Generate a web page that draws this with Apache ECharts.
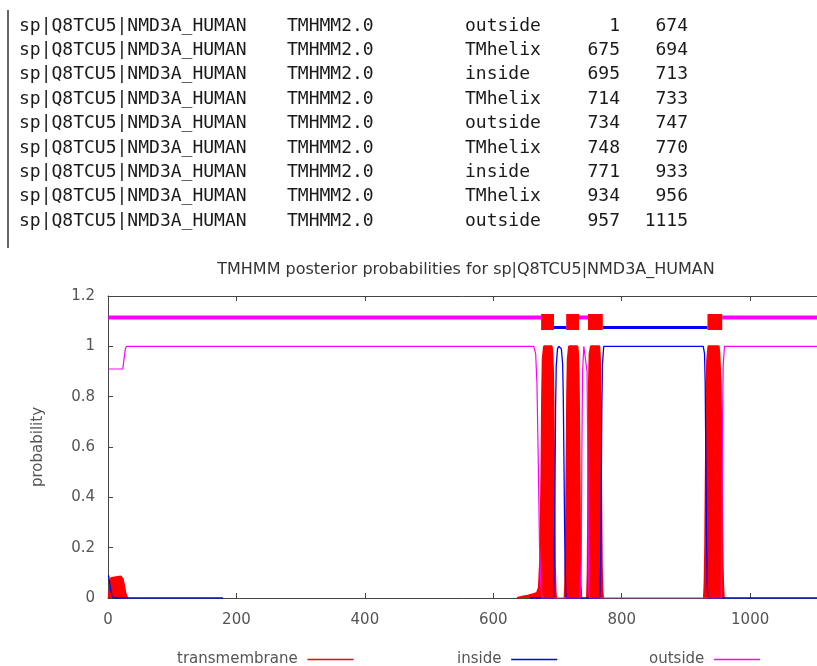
<!DOCTYPE html>
<html>
<head>
<meta charset="utf-8">
<script src="https://cdn.jsdelivr.net/npm/echarts@6/dist/echarts.min.js"></script>
<style>
  html, body { margin: 0; padding: 0; background: #ffffff; }
  #chart { width: 817px; height: 666px; }
</style>
</head>
<body>
<div id="chart"></div>
<script>
// ---- TMHMM prediction table ----
const seqName = 'sp|Q8TCU5|NMD3A_HUMAN';
const methodName = 'TMHMM2.0';
const regionType = ['outside', 'TMhelix', 'inside', 'TMhelix', 'outside', 'TMhelix', 'inside', 'TMhelix', 'outside'];
const regionStart = [1, 675, 695, 714, 734, 748, 771, 934, 957];
const regionEnd = [674, 694, 713, 733, 747, 770, 933, 956, 1115];
const seqLength = 1115;

// ---- posterior probabilities (residue, probability), '-' marks a gap ----
const tmProb = [
  [1, 0], [3, 0.04], [5, 0.08], [8, 0.085], [20, 0.085], [23, 0.075], [25, 0.05], [27, 0.02], [30, 0],
  ['-', '-'],
  [637, 0], [645, 0.005], [655, 0.01], [662, 0.015], [668, 0.02], [671, 0.04], [673, 0.15], [675, 0.5],
  [676, 0.8], [677, 0.95], [679, 1], [691, 1], [692, 0.97], [693, 0.9], [694, 0.7], [695, 0.4],
  [696, 0.12], [697, 0.02], [698, 0],
  ['-', '-'],
  [711, 0], [712, 0.05], [713, 0.2], [714, 0.5], [715, 0.8], [716, 0.95], [718, 1], [731, 1],
  [732, 0.97], [733, 0.88], [734, 0.6], [735, 0.25], [736, 0.06], [737, 0],
  ['-', '-'],
  [746, 0], [747, 0.1], [748, 0.45], [749, 0.85], [750, 0.97], [752, 1], [765, 1], [766, 0.95],
  [767, 0.75], [768, 0.4], [769, 0.12], [770, 0.02], [771, 0],
  ['-', '-'],
  [928, 0], [929, 0.05], [930, 0.2], [931, 0.5], [932, 0.8], [933, 0.94], [935, 1], [951, 1],
  [952, 0.97], [954, 0.85], [955, 0.65], [956, 0.4], [957, 0.15], [958, 0.04], [959, 0]
];
const insideProb = [
  [1, 0.09], [3, 0.05], [6, 0.01], [8, 0], [179, 0],
  ['-', '-'],
  [657, 0], [694, 0], [695, 0.15], [696, 0.45], [697, 0.75], [698, 0.92], [700, 0.99], [702, 1],
  [706, 0.99], [708, 0.93], [709, 0.8], [710, 0.55], [711, 0.3], [712, 0.1], [713, 0.02], [714, 0],
  [766, 0], [767, 0.1], [768, 0.4], [769, 0.75], [770, 0.93], [772, 1], [927, 1], [929, 0.97],
  [930, 0.85], [931, 0.55], [932, 0.25], [933, 0.06], [934, 0], [1115, 0]
];
const outsideProb = [
  [1, 0.91], [23, 0.91], [25, 0.95], [27, 0.99], [29, 1], [663, 1], [666, 0.97], [668, 0.85],
  [670, 0.55], [672, 0.2], [674, 0.05], [676, 0],
  [735, 0], [737, 0.15], [738, 0.6], [739, 0.9], [741, 1], [744, 1], [746, 0.9], [747, 0.6],
  [748, 0.2], [749, 0.03], [750, 0],
  [771, 0], [955, 0], [956, 0.3], [957, 0.7], [958, 0.92], [960, 1], [1115, 1]
];

// levels of the topology bars at the top of the plot
const topLevel = { outside: 1.115, inside: 1.075, TMhelix: 1.097 };

function topologySegments(type) {
  const out = [];
  regionType.forEach((t, i) => {
    if (t !== type) return;
    if (out.length) out.push(['-', '-']);
    out.push([regionStart[i] - 0.5, topLevel[type]]);
    out.push([regionEnd[i] + 0.5, topLevel[type]]);
  });
  return out;
}

const chart = echarts.init(document.getElementById('chart'), null, { renderer: 'canvas' });

const sansFont = '"DejaVu Sans", "Liberation Sans", sans-serif';
const monoFont = '"DejaVu Sans Mono", "Liberation Mono", monospace';

// table text as graphic elements
const tableGraphics = [];
const rowY0 = 26, rowStep = 24.4;
regionType.forEach((t, i) => {
  const y = rowY0 + i * rowStep;
  const cells = [
    { text: seqName, x: 19, align: 'left' },
    { text: methodName, x: 287, align: 'left' },
    { text: t, x: 465, align: 'left' },
    { text: String(regionStart[i]), x: 620, align: 'right' },
    { text: String(regionEnd[i]), x: 688, align: 'right' }
  ];
  cells.forEach(c => {
    tableGraphics.push({
      type: 'text',
      silent: true,
      style: {
        text: c.text, x: c.x, y: y,
        fill: '#1a1a1a',
        font: '18px ' + monoFont,
        align: c.align, textAlign: c.align,
        verticalAlign: 'middle', textVerticalAlign: 'middle'
      }
    });
  });
});
tableGraphics.push({
  type: 'line', silent: true,
  shape: { x1: 8, y1: 10, x2: 8, y2: 248 },
  style: { stroke: '#333', lineWidth: 1.5 }
});

const legendBase = {
  orient: 'horizontal',
  align: 'right',
  top: 652,
  padding: 0,
  itemWidth: 46,
  itemHeight: 1.5,
  formatter: name => name + ' ',
  textStyle: { fontFamily: sansFont, fontSize: 15, color: '#555' }
};

const option = {
  animation: false,
  backgroundColor: '#ffffff',
  title: {
    text: 'TMHMM posterior probabilities for ' + seqName,
    left: 466,
    textAlign: 'center',
    top: 262,
    padding: 0,
    textStyle: { fontFamily: sansFont, fontSize: 16, fontWeight: 'normal', color: '#333' }
  },
  graphic: tableGraphics,
  legend: [
    Object.assign({}, legendBase, { left: 177, data: [{ name: 'transmembrane', icon: 'rect' }] }),
    Object.assign({}, legendBase, { left: 457, data: [{ name: 'inside', icon: 'rect' }] }),
    Object.assign({}, legendBase, { left: 649, data: [{ name: 'outside', icon: 'rect' }] })
  ],
  grid: {
    left: 108, right: -7, top: 296, bottom: 68,
    containLabel: false,
    outerBoundsMode: 'none'
  },
  xAxis: [
    {
      type: 'value', min: 0, max: seqLength, interval: 200,
      position: 'bottom',
      axisLine: { show: true, onZero: false, lineStyle: { color: '#444', width: 1 } },
      axisTick: { show: true, inside: true, length: 5, lineStyle: { color: '#444' } },
      axisLabel: {
        show: true, margin: 15, showMaxLabel: false,
        formatter: v => String(v),
        fontFamily: sansFont, fontSize: 15, color: '#555'
      },
      splitLine: { show: false }
    },
    {
      type: 'value', min: 0, max: seqLength, interval: 200,
      position: 'top',
      axisLine: { show: true, onZero: false, lineStyle: { color: '#444', width: 1 } },
      axisTick: { show: true, inside: true, length: 5, lineStyle: { color: '#444' } },
      axisLabel: { show: false },
      splitLine: { show: false }
    }
  ],
  yAxis: {
    type: 'value', min: 0, max: 1.2, interval: 0.2,
    name: 'probability',
    nameLocation: 'middle',
    nameRotate: 90,
    nameGap: 62,
    nameTextStyle: { fontFamily: sansFont, fontSize: 15, color: '#555' },
    axisLine: { show: true, lineStyle: { color: '#444', width: 1 } },
    axisTick: { show: true, inside: true, length: 5, lineStyle: { color: '#444' } },
    axisLabel: { margin: 13, fontFamily: sansFont, fontSize: 15, color: '#555' },
    splitLine: { show: false }
  },
  series: [
    {
      name: 'transmembrane', type: 'line', data: tmProb, z: 2,
      symbol: 'none', color: '#ff0000',
      lineStyle: { color: '#ff0000', width: 2 },
      areaStyle: { color: '#ff0000', opacity: 1, origin: 'start' },
      connectNulls: false
    },
    {
      name: 'inside', type: 'line', data: insideProb, z: 3,
      symbol: 'none', color: '#0000ff',
      lineStyle: { color: '#0000ff', width: 1.3 },
      connectNulls: false
    },
    {
      name: 'outside', type: 'line', data: outsideProb, z: 3,
      symbol: 'none', color: '#ff00ff',
      lineStyle: { color: '#ff00ff', width: 1.2 },
      connectNulls: false
    },
    {
      name: 'topo-outside', type: 'line', data: topologySegments('outside'), z: 4,
      symbol: 'none', lineStyle: { color: '#ff00ff', width: 4, cap: 'butt' }, connectNulls: false
    },
    {
      name: 'topo-inside', type: 'line', data: topologySegments('inside'), z: 4,
      symbol: 'none', lineStyle: { color: '#0000ff', width: 3, cap: 'butt' }, connectNulls: false
    },
    {
      name: 'topo-TMhelix', type: 'line', data: topologySegments('TMhelix'), z: 5,
      symbol: 'none', lineStyle: { color: '#ff0000', width: 16, cap: 'butt' }, connectNulls: false
    }
  ]
};

chart.setOption(option);
</script>
</body>
</html>
